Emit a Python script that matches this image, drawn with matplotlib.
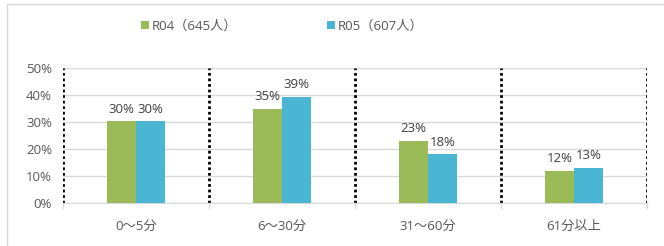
# Import libraries
import numpy as np
import matplotlib.pyplot as plt
from matplotlib.patches import Rectangle

# Font setup: Latin font first, Japanese fallback
plt.rcParams['font.family'] = ['Open Sans', 'Noto Sans CJK JP', 'DejaVu Sans']

# Chart data
categories = ["0～5分", "6～30分", "31～60分", "61分以上"]
series_names = ["R04（645人）", "R05（607人）"]
r04_values = [30.2, 35.0, 23.0, 11.9]
r05_values = [30.3, 39.3, 18.0, 13.1]
r04_labels = ["30%", "35%", "23%", "12%"]
r05_labels = ["30%", "39%", "18%", "13%"]

# Colors
green = "#9bbb59"
blue = "#4bb6d3"
text_gray = "#595959"
grid_gray = "#d9d9d9"

# Create the figure and axes
fig = plt.figure(figsize=(6.64, 2.46), dpi=100)
ax = fig.add_axes([63 / 664, 43 / 246, 584 / 664, 135 / 246])

# Draw the bars
x = np.arange(len(categories))
width = 0.2
bars1 = ax.bar(x - width / 2, r04_values, width, color=green, label=series_names[0], zorder=3)
bars2 = ax.bar(x + width / 2, r05_values, width, color=blue, label=series_names[1], zorder=3)

# Add value labels above bars
for bars, labels in [(bars1, r04_labels), (bars2, r05_labels)]:
    for bar, label in zip(bars, labels):
        ax.annotate(label,
                    (bar.get_x() + bar.get_width() / 2, bar.get_height()),
                    xytext=(0, 4), textcoords="offset points",
                    ha="center", va="bottom", fontsize=9.5, color="#404040")

# Axis limits and ticks
ax.set_xlim(-0.5, len(categories) - 0.5)
ax.set_ylim(0, 50)
ax.set_yticks(range(0, 51, 10))
ax.set_yticklabels([f"{v}%" for v in range(0, 51, 10)], fontsize=9.5, color=text_gray)
ax.set_xticks(x)
ax.set_xticklabels(categories, fontsize=9.5, color=text_gray)
ax.tick_params(axis="x", length=0, pad=12)
ax.tick_params(axis="y", length=0, pad=8)

# Gridlines
ax.yaxis.grid(True, color=grid_gray, linewidth=1, zorder=0)
ax.set_axisbelow(True)

# Spines
for side in ["top", "right", "left"]:
    ax.spines[side].set_visible(False)
ax.spines["bottom"].set_color(grid_gray)

# Dotted separators between categories
for b in np.arange(-0.5, len(categories), 1.0):
    ax.axvline(b, color="black", linestyle=(0, (1, 1)), linewidth=2, zorder=2)
    ax.plot([b, b], [0, -1.8], color=grid_gray, linewidth=1, clip_on=False)

# Legend
fig.legend(handles=[bars1, bars2], labels=series_names,
           loc="center left", bbox_to_anchor=(136 / 664, 1 - 26 / 246),
           ncol=2, frameon=False, fontsize=9.5, labelcolor=text_gray,
           handlelength=0.6, handleheight=0.6, handletextpad=0.2,
           columnspacing=6.8, borderaxespad=0)

# Outer frame
fig.patches.append(Rectangle((7 / 664, -0.1), 1.0, 1.1 - 4 / 246, transform=fig.transFigure,
                             fill=False, edgecolor=grid_gray, linewidth=1))

# Save the plot as a PNG file
plt.savefig("out.png", dpi=100)
